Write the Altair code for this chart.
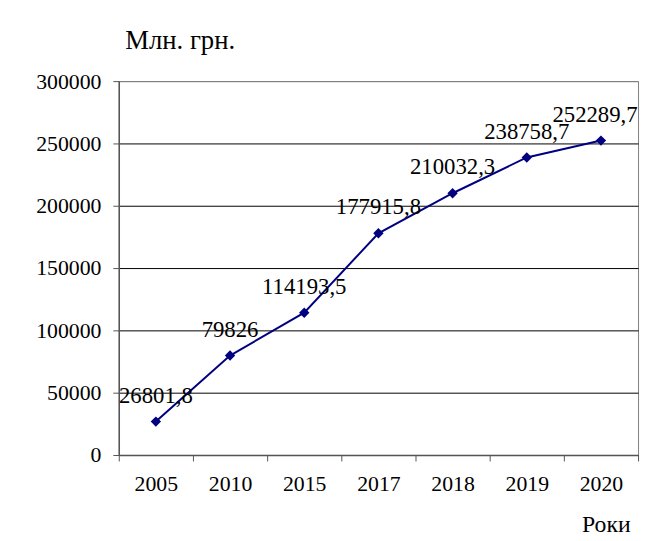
import altair as alt
import pandas as pd

years = ["2005", "2010", "2015", "2017", "2018", "2019", "2020"]
values = [26801.8, 79826.0, 114193.5, 177915.8, 210032.3, 238758.7, 252289.7]
y_ticks = [0, 50000, 100000, 150000, 200000, 250000, 300000]


def fmt(v):
    s = ("%.1f" % v).rstrip("0").rstrip(".")
    return s.replace(".", ",")


labels = [fmt(v) for v in values]

df = pd.DataFrame({"year": years, "value": values, "label": labels})

FONT = "'Liberation Serif', 'Times New Roman', serif"
NAVY = "#000080"

x = alt.X(
    "year:N",
    sort=years,
    bandPosition=0.5,
    scale=alt.Scale(type="band", paddingInner=0, paddingOuter=0),
    axis=alt.Axis(
        title="Роки",
        titleFont=FONT,
        titleFontSize=24,
        titleFontWeight="normal",
        titleColor="black",
        titleAlign="right",
        titleAnchor="end",
        titleBaseline="alphabetic",
        titleX=517,
        titleY=77,
        labelFont=FONT,
        labelFontSize=22,
        labelColor="black",
        labelAngle=0,
        labelPadding=13,
        tickBand="extent",
        tickSize=6,
        tickColor="#555555",
        domainColor="#555555",
        domainWidth=1.5,
        grid=False,
    ),
)

y = alt.Y(
    "value:Q",
    scale=alt.Scale(domain=[0, 300000], nice=False),
    axis=alt.Axis(
        title="Млн. грн.",
        titleFont=FONT,
        titleFontSize=27,
        titleFontWeight="normal",
        titleColor="black",
        titleAngle=0,
        titleAlign="left",
        titleBaseline="alphabetic",
        titleX=6,
        titleY=-33,
        values=y_ticks,
        format="d",
        labelFont=FONT,
        labelFontSize=22,
        labelColor="black",
        labelPadding=12,
        tickSize=6,
        tickColor="#555555",
        domainColor="#555555",
        domainWidth=1.5,
        grid=True,
        gridColor={"condition": {"test": "datum.value === 300000", "value": "#808080"}, "value": "black"},
        gridWidth=1,
    ),
)

base = alt.Chart(df)
last_year = years[-1]

line = base.mark_line(color=NAVY, strokeWidth=2).encode(x=x, y=y)
points = base.mark_point(shape="diamond", filled=True, color=NAVY, size=110, opacity=1).encode(x=x, y=y)
text_main = (
    base.transform_filter(alt.datum.year != last_year)
    .mark_text(font=FONT, fontSize=23, color="black", align="center", baseline="alphabetic", dy=-19)
    .encode(x=x, y=y, text="label:N")
)
text_last = (
    base.transform_filter(alt.datum.year == last_year)
    .mark_text(font=FONT, fontSize=23, color="black", align="center", baseline="alphabetic", dy=-19, dx=-6)
    .encode(x=x, y=y, text="label:N")
)

chart = (
    alt.layer(line, points, text_main, text_last)
    .properties(
        width=525,
        height=378,
        autosize=alt.AutoSizeParams(type="none"),
        padding={"left": 112, "top": 71, "right": 4, "bottom": 83},
        background="white",
    )
    .configure_view(stroke="#808080", strokeWidth=1)
)

chart.save("out.html", embed_options={"renderer": "svg", "actions": False})
